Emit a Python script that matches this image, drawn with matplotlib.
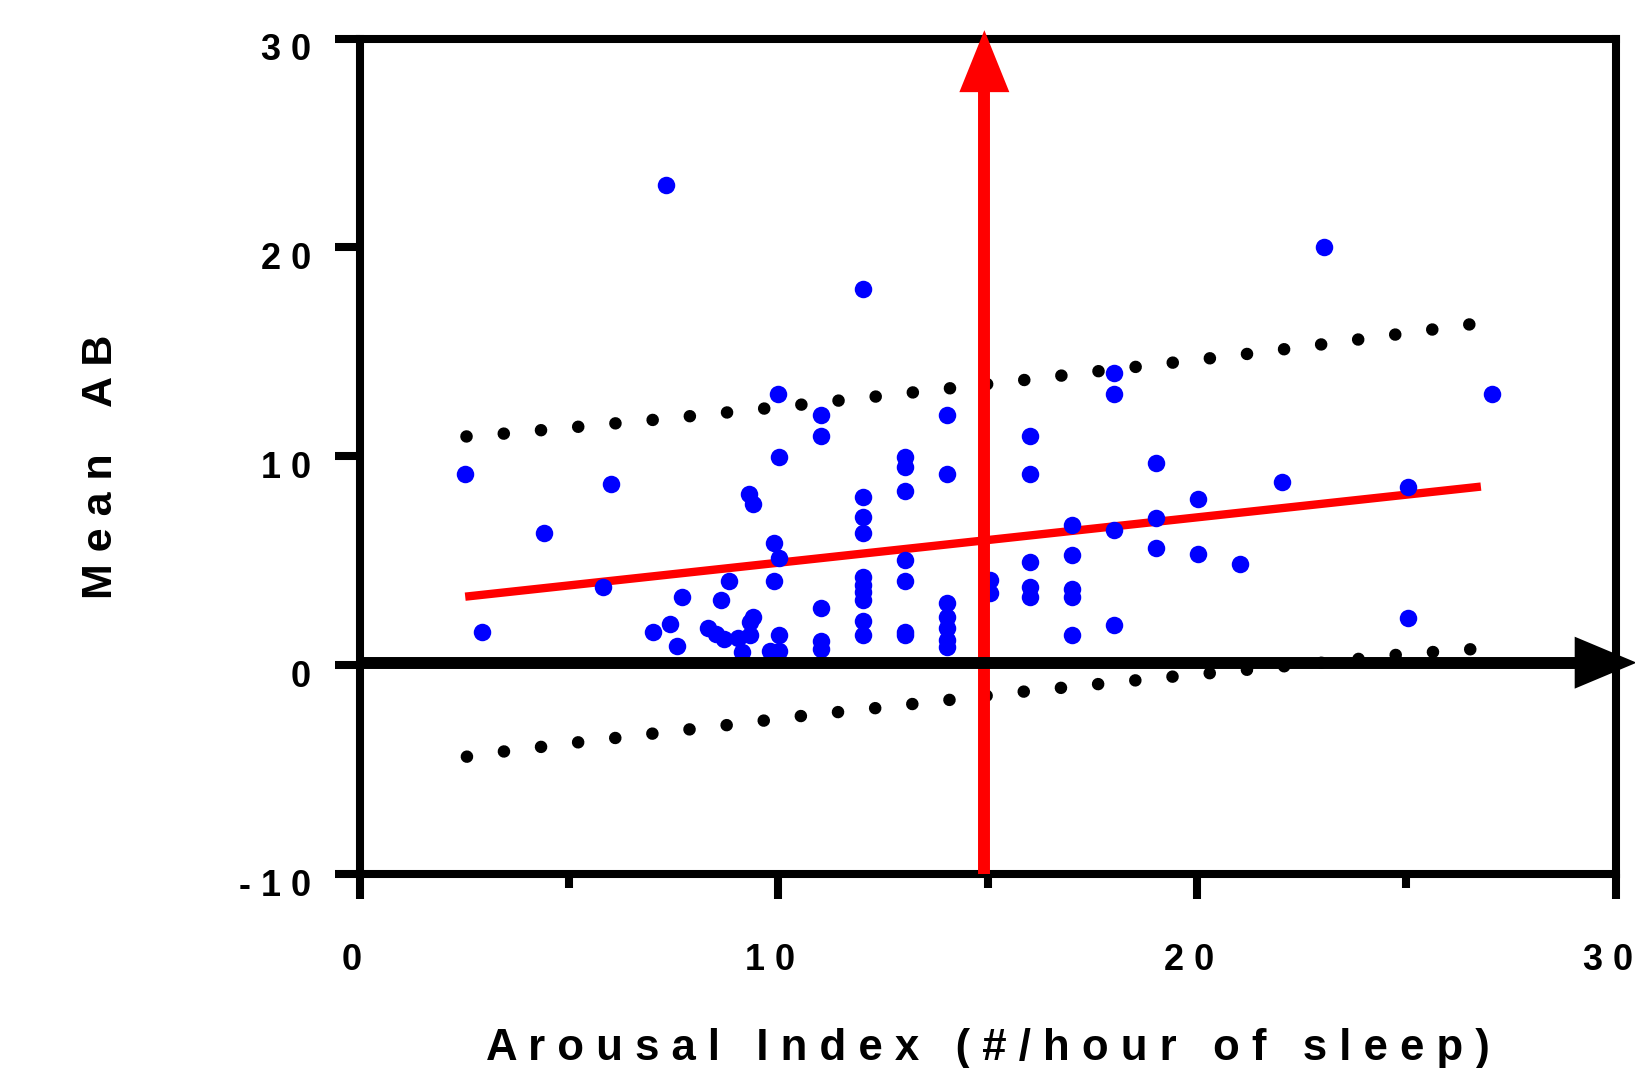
import matplotlib
matplotlib.use("Agg")
import matplotlib.pyplot as plt
import matplotlib.transforms as mtransforms

plt.rcParams['font.family'] = ['Liberation Sans', 'DejaVu Sans']
plt.rcParams['font.weight'] = 'bold'

# blue data points (arousal index, mean AB)
arousal = [2.52, 2.91, 4.41, 5.81, 6.01, 7.01, 7.31, 7.41, 7.59, 7.71,
           8.32, 8.51, 8.62, 8.70, 8.82, 9.03, 9.12, 9.31, 9.40, 9.32,
           9.32, 9.40, 9.80, 9.90, 9.90, 10.01, 10.01, 9.99, 10.01, 10.01,
           11.01, 11.02, 11.02, 11.02, 11.02,
           12.03, 12.01, 12.01, 12.01, 12.01, 12.01, 12.01, 12.01, 12.01, 12.01,
           13.02, 13.02, 13.02, 13.02, 13.02, 13.02, 13.02,
           14.02, 14.02, 14.02, 14.02, 14.02, 14.02, 14.02,
           15.05, 15.05,
           16.02, 16.02, 16.02, 16.02, 16.02,
           17.02, 17.02, 17.02, 17.02, 17.02,
           18.02, 18.02, 18.02, 18.02,
           19.03, 19.03, 19.03,
           20.03, 20.03, 21.02, 22.03, 23.03, 25.03, 25.03, 27.04]
mean_ab = [9.16, 1.61, 6.32, 3.76, 8.67, 1.61, 23.0, 1.96, 0.92, 3.25,
           1.77, 1.49, 3.11, 1.24, 4.05, 1.29, 0.62, 8.20, 7.71, 1.45,
           2.08, 2.32, 0.68, 5.84, 4.05, 5.12, 9.99, 12.99, 1.45, 0.68,
           11.99, 10.98, 2.76, 1.17, 0.79,
           18.01, 8.07, 7.09, 6.35, 4.24, 3.84, 3.52, 3.12, 2.13, 1.45,
           9.99, 9.48, 8.35, 5.04, 4.05, 1.60, 1.45,
           11.99, 9.16, 2.97, 2.32, 1.77, 1.21, 0.89,
           4.08, 3.44,
           10.98, 9.16, 4.96, 3.76, 3.25,
           6.72, 5.28, 3.64, 3.25, 1.45,
           13.99, 12.98, 6.48, 1.93,
           9.67, 7.07, 5.63,
           7.96, 5.33, 4.83, 8.75, 20.0, 8.55, 2.25, 12.98]

# regression line end points
reg_x = [2.52, 26.78]
reg_y = [3.28, 8.55]

# prediction band (dotted)
upper_x = [2.55, 3.41, 5.20, 6.99, 8.78, 10.58, 12.37, 14.16, 15.95, 17.75, 19.53, 21.32, 23.10, 24.89, 26.64]
upper_y = [10.95, 11.08, 11.41, 11.74, 12.10, 12.48, 12.87, 13.27, 13.67, 14.10, 14.51, 14.93, 15.39, 15.87, 16.35]
lower_x = [2.56, 3.41, 5.19, 6.98, 8.77, 10.56, 12.35, 14.14, 15.93, 17.72, 19.51, 21.30, 23.10, 24.89, 26.66]
lower_y = [-4.38, -4.14, -3.70, -3.28, -2.87, -2.43, -2.05, -1.65, -1.25, -0.89, -0.53, -0.20, 0.14, 0.52, 0.78]

# reference arrows
cutoff_x = 14.92
cutoff_head = [27.43, 30.4]
base_y = 0.12
base_head = [29.03, 30.5]

xticks = [0, 10, 20, 30]
xtick_labels = ["0", "1 0", "2 0", "3 0"]
xminor = [5, 15, 25]
yticks = [-10, 0, 10, 20, 30]
ytick_labels = ["- 1 0", "0", "1 0", "2 0", "3 0"]

fig = plt.figure(figsize=(16.35, 10.68), dpi=100)
ax = fig.add_axes([0.2200, 0.1816, 0.7682, 0.7823])
ax.set_xlim(0, 30)
ax.set_ylim(-10, 30)

dot_style = dict(color='black', linewidth=9, linestyle=(0, (0.01, 2.98)),
                 dash_capstyle='round', zorder=2)
ax.plot(upper_x, upper_y, **dot_style)
ax.plot(lower_x, lower_y, **dot_style)

ax.plot(reg_x, reg_y, color='#ff0000', linewidth=6, solid_capstyle='butt', zorder=3)

ax.plot(arousal, mean_ab, 'o', color='#0000ff', markersize=12.6,
        markeredgewidth=0, zorder=4)

# red vertical arrow
ax.plot([cutoff_x, cutoff_x], [-10, cutoff_head[0]], color='#ff0000',
        linewidth=8.6, solid_capstyle='butt', zorder=5, clip_on=False)
ax.annotate('', xy=(cutoff_x, cutoff_head[1]), xytext=(cutoff_x, cutoff_head[0]),
            arrowprops=dict(arrowstyle='-|>,head_length=44.6,head_width=18',
                            mutation_scale=1, lw=0, color='#ff0000',
                            shrinkA=0, shrinkB=0),
            annotation_clip=False, zorder=5)

# black horizontal arrow
ax.plot([0, base_head[0]], [base_y, base_y], color='black', linewidth=8.6,
        solid_capstyle='butt', zorder=6, clip_on=False)
ax.annotate('', xy=(base_head[1], base_y), xytext=(base_head[0], base_y),
            arrowprops=dict(arrowstyle='-|>,head_length=44.6,head_width=18.7',
                            mutation_scale=1, lw=0, color='black',
                            shrinkA=0, shrinkB=0),
            annotation_clip=False, zorder=6)

for s in ax.spines.values():
    s.set_linewidth(5.8)

ax.set_xticks(xticks)
ax.set_xticklabels(xtick_labels)
ax.set_xticks(xminor, minor=True)
ax.set_yticks(yticks)
ax.set_yticklabels(ytick_labels)
ax.tick_params(axis='both', which='major', direction='out', length=18, width=5.8,
               labelsize=26)
ax.tick_params(axis='x', which='major', pad=32)
ax.tick_params(axis='y', which='major', pad=17)
ax.tick_params(axis='x', which='minor', direction='out', length=10, width=5.8)

dx = mtransforms.ScaledTranslation(-0.08, 0, fig.dpi_scale_trans)
for lab in ax.get_xticklabels():
    lab.set_transform(lab.get_transform() + dx)
dy = mtransforms.ScaledTranslation(0, -0.08, fig.dpi_scale_trans)
for lab in ax.get_yticklabels():
    lab.set_transform(lab.get_transform() + dy)

fig.text(988 / 1635, 8 / 1068,
         "A r o u s a l   I n d e x   ( # / h o u r   o f   s l e e p )",
         ha='center', va='baseline', fontsize=31.5, fontweight='bold')
fig.text(101 / 1635, 1 - 467 / 1068, "M e a n    A B", rotation=90,
         ha='center', va='center', fontsize=31, fontweight='bold')

fig.savefig("out.png", dpi=100)
